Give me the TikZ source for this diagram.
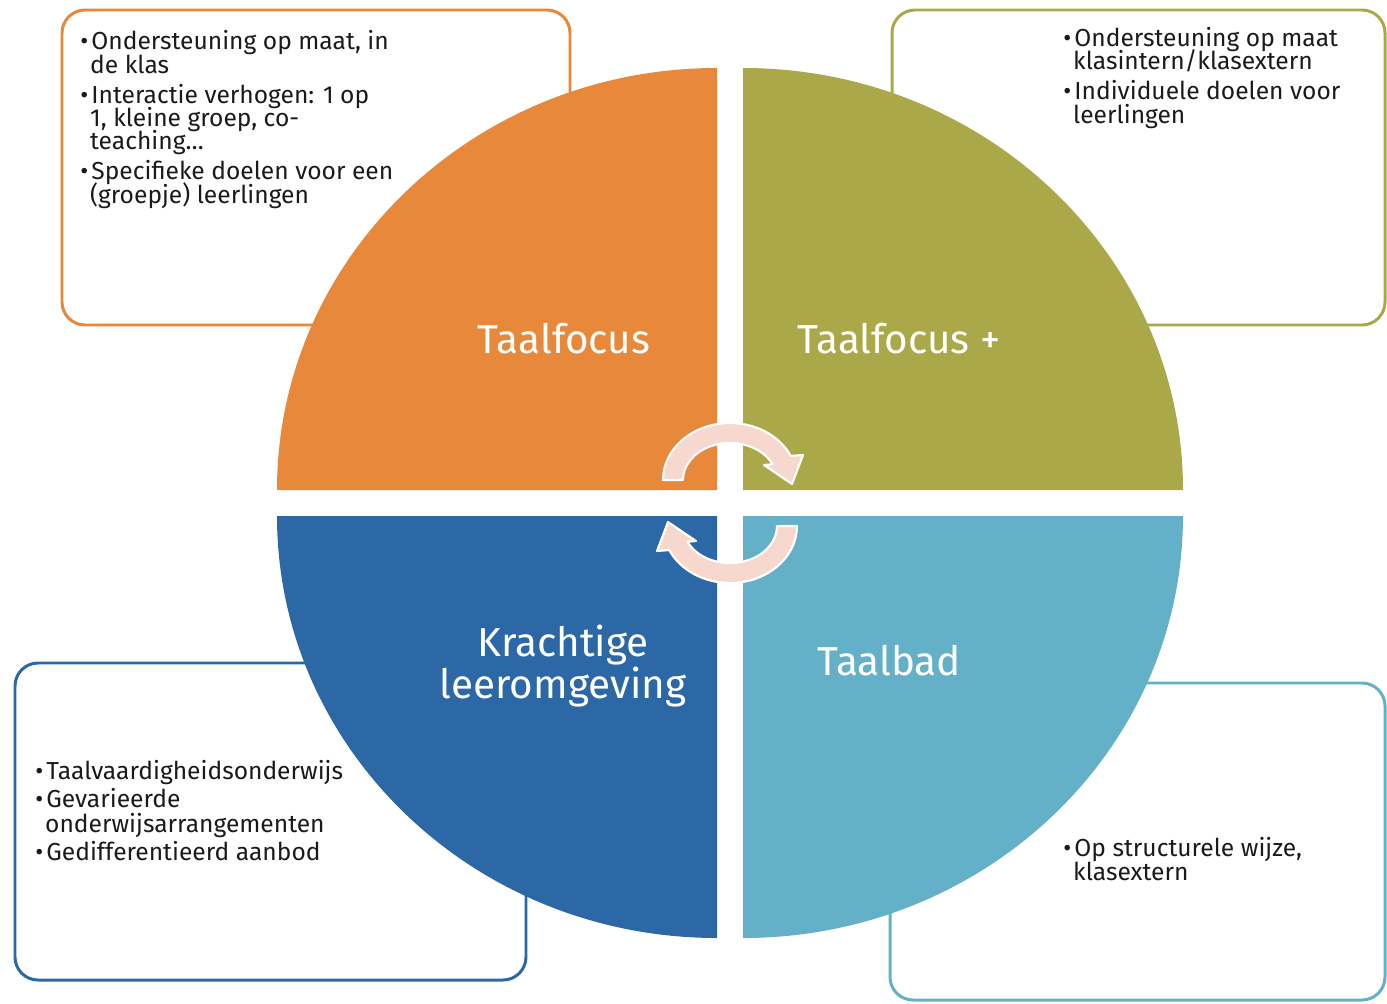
\documentclass[tikz,border=0pt]{standalone}
\usepackage{fontspec}
\setmainfont{Fira Sans}
\newfontfamily\notefont{Fira Sans}

\definecolor{focusorange}{HTML}{E8883A}
\definecolor{focusolive}{HTML}{ABA84A}
\definecolor{envblue}{HTML}{2D68A6}
\definecolor{bathteal}{HTML}{64B0C8}
\definecolor{arrowpink}{HTML}{F6D8CF}
\definecolor{notetext}{HTML}{1A1A1A}

\newcommand\notesize{\notefont\fontsize{14}{13.3}\selectfont\lineskiplimit -20pt\relax}
\newcommand\bul{\makebox[0.45em][l]{•}}
\newcommand\ind{\hspace*{0.4em}}
\newcommand\turnpath{(663,480) arc[start angle=180, end angle=335, x radius=67, y radius=57]
  -- (803,455) -- (792,484) -- (764,465) -- (772.6,464.3)
  arc[start angle=335, end angle=180, x radius=47, y radius=37] -- cycle}

\begin{document}
\begin{tikzpicture}[x=0.02cm, y=-0.02cm,
	infobox/.style={line width=1.7pt, rounded corners=0.46cm},
	quarter/.style={draw=none},
	quartertext/.style={text=white, align=center, inner sep=0pt, font=\fontsize{23}{23.5}\selectfont},
	note/.style={anchor=base west, inner sep=0pt, align=left, text=notetext, font=\notesize},
	turn/.style={fill=arrowpink, draw=white, line width=1.2pt, line join=round}]
	\useasboundingbox (0,0) rectangle (1387,1004);

	% boxes behind the circle
	\draw[infobox, draw=focusorange] (62,10) rectangle (570,325);
	\draw[infobox, draw=focusolive] (892,10) rectangle (1385,325);
	\draw[infobox, draw=envblue] (15,663) rectangle (526,980);
	\draw[infobox, draw=bathteal] (890,683) rectangle (1385,1000);

	% four quarters
	\fill[quarter, focusorange] (717,490) -- (277,490) arc[start angle=180, end angle=270, x radius=440, y radius=422] -- cycle;
	\fill[quarter, focusolive] (743,490) -- (743,68) arc[start angle=270, end angle=360, x radius=440, y radius=422] -- cycle;
	\fill[quarter, bathteal] (743,516) -- (1183,516) arc[start angle=0, end angle=90, x radius=440, y radius=422] -- cycle;
	\fill[quarter, envblue] (717,516) -- (717,938) arc[start angle=90, end angle=180, x radius=440, y radius=422] -- cycle;

	% base = last line
	\node[quartertext, anchor=base] (focus) at (564,353) {Taalfocus};
	\node[quartertext, anchor=base] (focusplus) at (899,353) {Taalfocus +};
	\node[quartertext, anchor=base] (krachtig) at (563,698) {Krachtige\\leeromgeving};
	\node[quartertext, anchor=base] (bad) at (889,675) {Taalbad};

	% turning arrows
	\draw[turn] \turnpath;
	\begin{scope}[rotate around={180:(730,503)}]
		\draw[turn] \turnpath;
	\end{scope}

	\node[note] (focusnote) at (80,203) {\bul Ondersteuning op maat, in\\\ind de klas\\[3.7pt]
		\bul Interactie verhogen: 1 op\\\ind 1, kleine groep, co-\\\ind teaching…\\[3.7pt]
		\bul Specifieke doelen voor een\\\ind (groepje) leerlingen};
	\node[note] (plusnote) at (1063,123) {\bul Ondersteuning op maat\\\ind klasintern/klasextern\\[3.7pt]
		\bul Individuele doelen voor\\\ind leerlingen};
	\node[note] (envnote) at (35,860) {\bul Taalvaardigheidsonderwijs\\[2.5pt]
		\bul Gevarieerde\\[0.8pt]\ind onderwijsarrangementen\\[2.5pt]
		\bul Gedifferentieerd aanbod};
	\node[note] (badnote) at (1063,880) {\bul Op structurele wijze,\\\ind klasextern};
\end{tikzpicture}
\end{document}
